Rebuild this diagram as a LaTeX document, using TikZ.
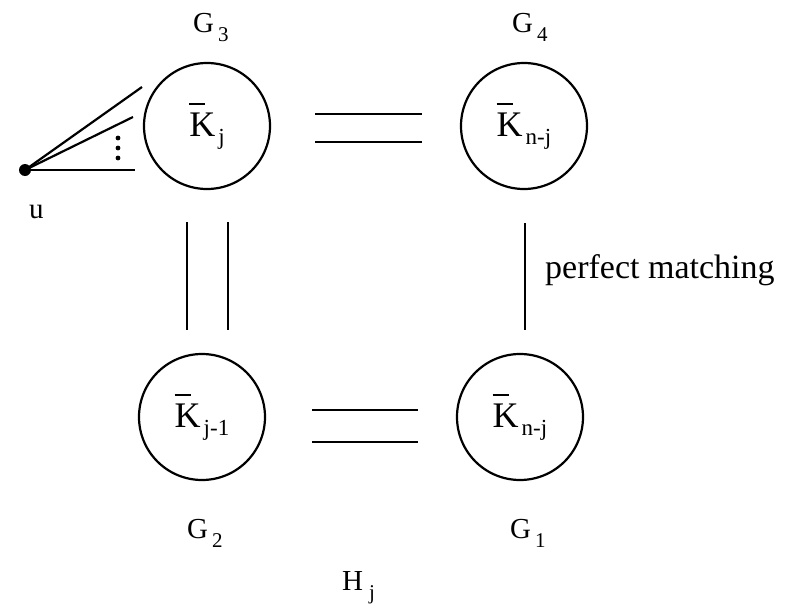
\documentclass[tikz,border=0pt]{standalone}
\usepackage{fontspec}
\setmainfont{Liberation Serif}
\usetikzlibrary{calc}
\newcommand\Kbar[1]{\rlap{\raisebox{32pt}{\rule{16pt}{2pt}}}K\kern3pt\raisebox{-8pt}{\fontsize{23}{23}\selectfont #1}}
\newcommand\Glab[1]{G\kern4pt\raisebox{-9pt}{\fontsize{21}{21}\selectfont #1}}
\tikzset{
  grp/.style={circle,draw,line width=2.2pt,minimum size=126pt,inner sep=0pt,font=\fontsize{36}{36}\selectfont},
  lab/.style={anchor=base west,inner sep=0pt,font=\fontsize{29}{29}\selectfont},
  edge/.style={line width=2.2pt},
}
\begin{document}
\begin{tikzpicture}[x=1pt,y=-1pt]
\useasboundingbox (0,0) rectangle (788,616);
\node[grp] (g3) at (207,126) {\Kbar{j}};
\node[grp] (g4) at (524,126) {\Kbar{n-j}};
\node[grp] (g2) at (202,417) {\Kbar{j-1}};
\node[grp] (g1) at (520,417) {\Kbar{n-j}};
\node[lab] (l3) at (193,32) {\Glab{3}};
\node[lab] (l4) at (512,32) {\Glab{4}};
\node[lab] (l2) at (187,538) {\Glab{2}};
\node[lab] (l1) at (510,538) {\Glab{1}};
\node[lab] (h) at (342,590) {H\kern6pt\raisebox{-9pt}{\fontsize{21}{21}\selectfont j}};
\node[lab] (ul) at (29,218) {u};
\node[lab,font=\fontsize{34}{34}\selectfont] (pm) at (545,278) {perfect matching};
\fill (25,170) circle (6pt) coordinate (u);
% edges from u
\coordinate (e1) at (142,87);
\coordinate (e2) at (133,117);
\coordinate (e3) at (135,170);
\draw[edge] (u) -- (e1);
\draw[edge] (u) -- (e2);
\draw[edge] (u) -- (e3);
\foreach \yy in {138,148,158} \fill (118,\yy) circle (2.4pt);
% top double
\draw[edge] ($(g3.center)+(108,-12)$) -- ($(g4.center)+(-102,-12)$);
\draw[edge] ($(g3.center)+(108,16)$) -- ($(g4.center)+(-102,16)$);
% bottom double
\draw[edge] ($(g2.center)+(110,-7)$) -- ($(g1.center)+(-102,-7)$);
\draw[edge] ($(g2.center)+(110,25)$) -- ($(g1.center)+(-102,25)$);
% left vertical double
\draw[edge] ($(g3.center)+(-20,96)$) -- ($(g2.center)+(-15,-87)$);
\draw[edge] ($(g3.center)+(21,96)$) -- ($(g2.center)+(26,-87)$);
% right vertical
\draw[edge] ($(g4.center)+(1,97)$) -- ($(g1.center)+(5,-87)$);
\end{tikzpicture}
\end{document}
